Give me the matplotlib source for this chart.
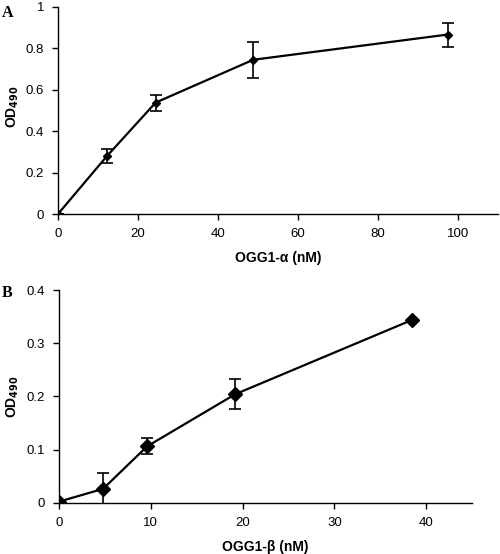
import matplotlib
matplotlib.use("Agg")
import matplotlib.pyplot as plt

plt.rcParams['font.family'] = ['Liberation Sans', 'DejaVu Sans']

# panel A: OGG1-alpha
conc_a = [0, 12.2, 24.4, 48.8, 97.5]
od_a = [0.0, 0.279, 0.538, 0.745, 0.867]
err_a = [0.0, 0.033, 0.039, 0.086, 0.058]

# panel B: OGG1-beta
conc_b = [0, 4.8, 9.6, 19.2, 38.5]
od_b = [0.002, 0.026, 0.106, 0.204, 0.344]
err_b = [0.0, 0.030, 0.015, 0.028, 0.0]

fig = plt.figure(figsize=(5.0, 5.54), dpi=100)

axA = fig.add_axes([0.116, 0.6137, 0.88, 0.3737])
axB = fig.add_axes([0.118, 0.0926, 0.826, 0.3839])


def style(ax):
    for s in ['top', 'right']:
        ax.spines[s].set_visible(False)
    for s in ['left', 'bottom']:
        ax.spines[s].set_linewidth(1.0)
    ax.tick_params(direction='out', length=4, width=1.0, labelsize=9.5, pad=6)


axA.errorbar(conc_a, od_a, yerr=err_a, color='black', lw=1.6, marker='D',
             markersize=4, capsize=4, elinewidth=1.2, capthick=1.2)
axA.set_xlim(0, 110)
axA.set_ylim(0, 1)
axA.set_xticks([0, 20, 40, 60, 80, 100])
axA.set_yticks([0, 0.2, 0.4, 0.6, 0.8, 1])
axA.set_yticklabels(['0', '0.2', '0.4', '0.6', '0.8', '1'])
axA.set_xlabel('OGG1-\u03b1 (nM)', fontsize=10, fontweight='bold', labelpad=8)
axA.set_ylabel('OD$_{\\mathbf{490}}$', fontsize=10, fontweight='bold')
axA.yaxis.set_label_coords(-0.084, 0.52)
style(axA)

axB.errorbar(conc_b, od_b, yerr=err_b, color='black', lw=1.6, marker='D',
             markersize=7, capsize=4, elinewidth=1.2, capthick=1.2)
axB.set_xlim(0, 45)
axB.set_ylim(0, 0.4)
axB.set_xticks([0, 10, 20, 30, 40])
axB.set_yticks([0, 0.1, 0.2, 0.3, 0.4])
axB.set_yticklabels(['0', '0.1', '0.2', '0.3', '0.4'])
axB.set_xlabel('OGG1-\u03b2 (nM)', fontsize=10, fontweight='bold', labelpad=8)
axB.set_ylabel('OD$_{\\mathbf{490}}$', fontsize=10, fontweight='bold')
axB.yaxis.set_label_coords(-0.092, 0.5)
style(axB)

fig.text(0.004, 0.991, 'A', fontsize=11.5, fontweight='bold',
         family='Liberation Serif', va='top')
fig.text(0.004, 0.4856, 'B', fontsize=11.5, fontweight='bold',
         family='Liberation Serif', va='top')

fig.savefig('out.png', dpi=100)
